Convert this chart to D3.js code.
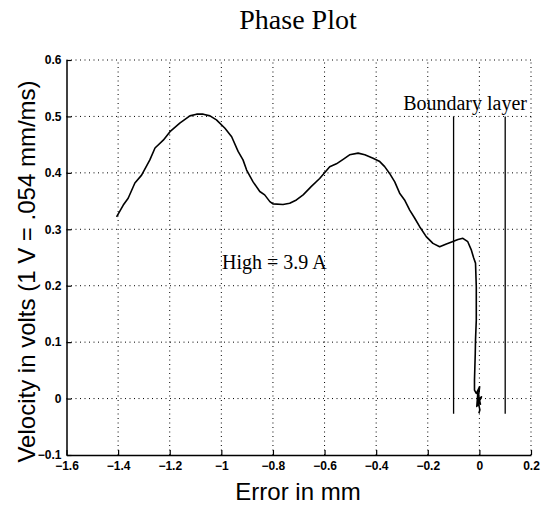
<!DOCTYPE html>
<html><head><meta charset="utf-8">
<script src="https://cdn.jsdelivr.net/npm/d3@7"></script>
<style>body{margin:0;background:#fff}</style>
</head><body>
<script>
const errX = [-1.406,-1.380,-1.361,-1.335,-1.309,-1.277,-1.257,-1.225,-1.199,-1.161,-1.122,-1.096,-1.070,-1.044,-1.019,-0.986,-0.960,-0.935,-0.916,-0.902,-0.877,-0.851,-0.832,-0.812,-0.800,-0.761,-0.735,-0.709,-0.683,-0.651,-0.619,-0.580,-0.554,-0.528,-0.503,-0.470,-0.444,-0.412,-0.386,-0.367,-0.348,-0.328,-0.309,-0.290,-0.270,-0.251,-0.232,-0.206,-0.180,-0.154,-0.128,-0.105,-0.083,-0.064,-0.045,-0.031,-0.022,-0.015,-0.012,-0.012,-0.015,-0.016,-0.019,-0.019,-0.012,0.001,-0.005,0.008,-0.010,-0.006,0.004,-0.008,0.002,-0.002];
const velY = [0.322,0.343,0.355,0.382,0.396,0.423,0.444,0.458,0.473,0.488,0.501,0.504,0.504,0.501,0.494,0.479,0.464,0.438,0.423,0.405,0.384,0.367,0.361,0.349,0.345,0.344,0.346,0.352,0.361,0.376,0.390,0.411,0.416,0.424,0.432,0.435,0.432,0.426,0.420,0.411,0.399,0.384,0.364,0.352,0.334,0.320,0.305,0.287,0.275,0.269,0.274,0.278,0.282,0.284,0.278,0.263,0.249,0.240,0.198,0.139,0.104,0.080,0.033,0.015,0.009,0.021,-0.002,0.003,-0.014,0.010,-0.010,0.000,-0.020,-0.026];
const xTicks = [-1.6,-1.4,-1.2,-1,-0.8,-0.6,-0.4,-0.2,0,0.2];
const yTicks = [-0.1,0,0.1,0.2,0.3,0.4,0.5,0.6];
const boundaryX = [-0.1, 0.1];
const boundaryY = [-0.027, 0.5];
const titleText = "Phase Plot";
const xLabel = "Error in mm";
const yLabel = "Velocity in volts (1 V = .054 mm/ms)";
const boundaryText = "Boundary layer";
const highText = "High = 3.9 A";

const W = 545, H = 506;
const m = {l:66.5, r:531, t:60, b:455};
const svg = d3.select("body").append("svg").attr("width",W).attr("height",H);
const x = d3.scaleLinear().domain([-1.6,0.2]).range([m.l,m.r]);
const y = d3.scaleLinear().domain([-0.1,0.6]).range([m.b,m.t]);
const fmt = d => (d===0?"0":d3.format("")(d)).replace("-","\u2212");

// grid
const g = svg.append("g").attr("stroke","#000").attr("stroke-width",1).attr("stroke-dasharray","1,3.5");
xTicks.slice(1).forEach(t=>g.append("line").attr("x1",x(t)).attr("x2",x(t)).attr("y1",m.b).attr("y2",m.t));
yTicks.slice(1).forEach(t=>g.append("line").attr("x1",m.l).attr("x2",m.r).attr("y1",y(t)).attr("y2",y(t)));

// axes
const xa = svg.append("g").attr("transform",`translate(0,${m.b})`)
  .call(d3.axisBottom(x).tickValues(xTicks).tickFormat(fmt).tickSizeInner(-5).tickSizeOuter(0).tickPadding(6));
const ya = svg.append("g").attr("transform",`translate(${m.l},0)`)
  .call(d3.axisLeft(y).tickValues(yTicks).tickFormat(fmt).tickSizeInner(-5).tickSizeOuter(0).tickPadding(5));
[xa,ya].forEach(a=>{
  a.select(".domain").attr("stroke","#000").attr("stroke-width",1.5);
  a.selectAll(".tick line").attr("stroke","#000").attr("stroke-width",1.2);
  a.selectAll("text").attr("font-family","Liberation Sans, Arial, sans-serif").attr("font-size",12).attr("font-weight","bold").attr("fill","#000");
});

// boundary lines
boundaryX.forEach(bx=>svg.append("line").attr("x1",x(bx)).attr("x2",x(bx))
  .attr("y1",y(boundaryY[0])).attr("y2",y(boundaryY[1])).attr("stroke","#000").attr("stroke-width",1.3));

// curve
const pts = errX.map((v,i)=>[v,velY[i]]);
svg.append("path").datum(pts).attr("fill","none").attr("stroke","#000").attr("stroke-width",1.6)
  .attr("stroke-linejoin","round").attr("d",d3.line().x(d=>x(d[0])).y(d=>y(d[1])));

// texts
svg.append("text").attr("x",298).attr("y",29).attr("text-anchor","middle")
  .attr("font-family","Liberation Serif, Times New Roman, serif").attr("font-size",28).text(titleText);
svg.append("text").attr("x",298).attr("y",500).attr("text-anchor","middle")
  .attr("font-family","Liberation Sans, Arial, sans-serif").attr("font-size",24).text(xLabel);
svg.append("text").attr("transform",`translate(35,${(m.t+m.b)/2+14}) rotate(-90)`).attr("text-anchor","middle")
  .attr("font-family","Liberation Sans, Arial, sans-serif").attr("font-size",24).text(yLabel);
svg.append("text").attr("x",527).attr("y",110).attr("text-anchor","end")
  .attr("font-family","Liberation Serif, Times New Roman, serif").attr("font-size",20).text(boundaryText);
svg.append("text").attr("x",222).attr("y",269)
  .attr("font-family","Liberation Serif, Times New Roman, serif").attr("font-size",20).text(highText);
</script>
</body></html>
